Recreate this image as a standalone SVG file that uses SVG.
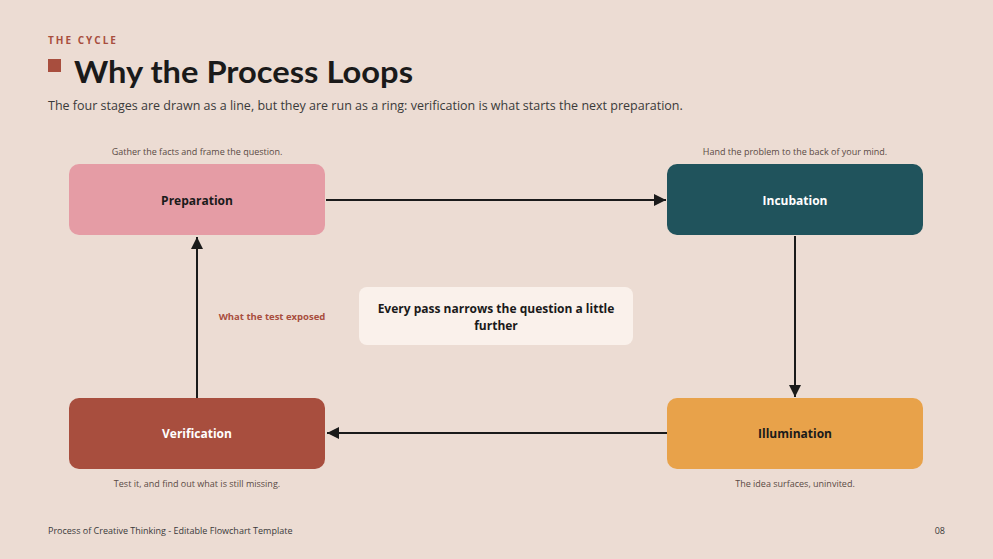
<svg xmlns="http://www.w3.org/2000/svg" width="993" height="559" viewBox="0 0 993 559">
<defs>
<marker id="ah" viewBox="0 0 10 10" refX="10" refY="5" markerWidth="12" markerHeight="12" markerUnits="userSpaceOnUse" orient="auto"><path d="M0,0L10,5L0,10z" fill="#1a1a1a"/></marker>
<style>
text{font-family:"Open Sans","Liberation Sans",sans-serif}
.n{font-size:12px;font-weight:bold;text-anchor:middle}
.c{font-size:9px;fill:#5a4a44;text-anchor:middle}
.e{stroke:#1a1a1a;stroke-width:2;fill:none;marker-end:url(#ah)}
</style>
</defs>
<rect width="993" height="559" fill="#ecdcd3"/>
<text x="48" y="44" font-size="10" font-weight="bold" fill="#a84e3e" letter-spacing="2">THE CYCLE</text>
<rect x="48" y="59" width="13" height="13" fill="#a84e3e"/>
<text x="74" y="83" font-size="30" font-weight="bold" fill="#1a1a1a" textLength="339" lengthAdjust="spacingAndGlyphs" style="font-family:Lato,'Liberation Sans',sans-serif">Why the Process Loops</text>
<text x="48" y="110" font-size="12.5" fill="#3a3a3a">The four stages are drawn as a line, but they are run as a ring: verification is what starts the next preparation.</text>
<g id="connectors">
<path class="e" d="M326,200H666"/>
<path class="e" d="M795,236V397"/>
<path class="e" d="M667,433H327"/>
<path class="e" d="M197,398V237"/>
<text x="272" y="320" font-size="9.5" font-weight="bold" fill="#a84e3e" text-anchor="middle">What the test exposed</text>
</g>
<g id="preparation"><text class="c" x="197" y="155">Gather the facts and frame the question.</text><rect x="69" y="164" width="256" height="71" rx="10" fill="#e59ca5"/><text class="n" x="197" y="205" fill="#1a1a1a">Preparation</text></g>
<g id="incubation"><text class="c" x="795" y="155">Hand the problem to the back of your mind.</text><rect x="667" y="164" width="256" height="71" rx="10" fill="#20535c"/><text class="n" x="795" y="205" fill="#ffffff">Incubation</text></g>
<g id="verification"><rect x="69" y="398" width="256" height="71" rx="10" fill="#a84e3e"/><text class="n" x="197" y="438" fill="#ffffff">Verification</text><text class="c" x="197" y="487">Test it, and find out what is still missing.</text></g>
<g id="illumination"><rect x="667" y="398" width="256" height="71" rx="10" fill="#e8a24a"/><text class="n" x="795" y="438" fill="#1a1a1a">Illumination</text><text class="c" x="795" y="487">The idea surfaces, uninvited.</text></g>
<g id="note"><rect x="359" y="287" width="274" height="58" rx="8" fill="#faf1eb"/><text class="n" x="496" y="313" font-size="10.5" fill="#1a1a1a">Every pass narrows the question a little</text><text class="n" x="496" y="330" font-size="10.5" fill="#1a1a1a">further</text></g>
<text x="48" y="534" font-size="9" fill="#3a3a3a">Process of Creative Thinking - Editable Flowchart Template</text>
<text x="945" y="534" font-size="9" fill="#3a3a3a" text-anchor="end">08</text>
</svg>
